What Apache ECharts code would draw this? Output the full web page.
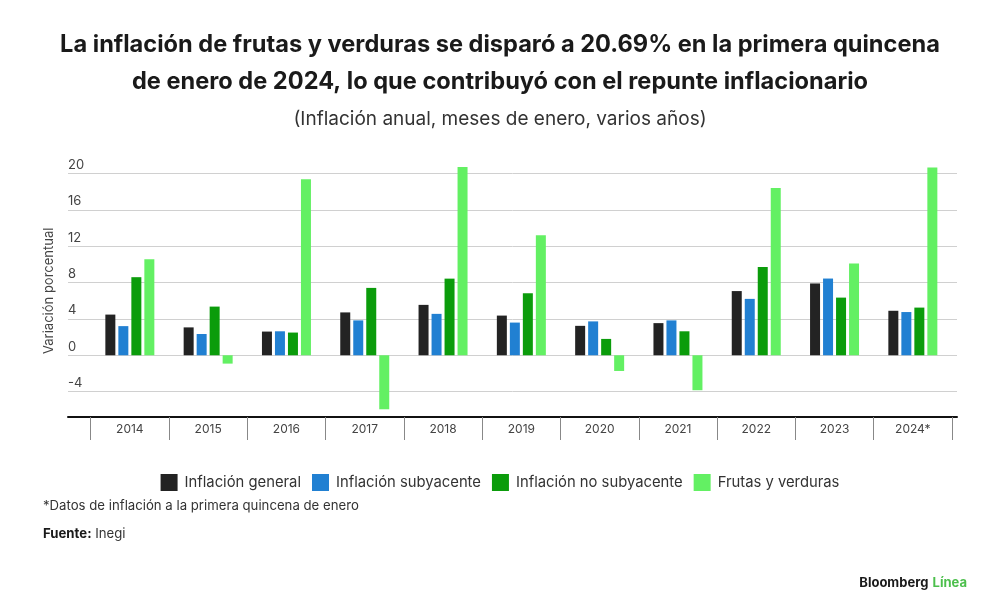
<!DOCTYPE html>
<html>
<head>
<meta charset="utf-8">
<script src="https://cdn.jsdelivr.net/npm/echarts@6/dist/echarts.min.js"></script>
<style>
  html, body { margin: 0; padding: 0; background: #fff; }
  #chart { width: 1000px; height: 610px; }
</style>
</head>
<body>
<div id="chart"></div>
<script>
var years = ['2014', '2015', '2016', '2017', '2018', '2019', '2020', '2021', '2022', '2023', '2024*'];
var general = [4.48, 3.07, 2.61, 4.72, 5.55, 4.37, 3.24, 3.54, 7.07, 7.91, 4.90];
var subyacente = [3.21, 2.34, 2.64, 3.84, 4.56, 3.60, 3.73, 3.84, 6.21, 8.45, 4.76];
var noSubyacente = [8.60, 5.36, 2.50, 7.42, 8.44, 6.83, 1.80, 2.64, 9.73, 6.35, 5.25];
var frutas = [10.57, -0.92, 19.38, -5.95, 20.74, 13.22, -1.73, -3.85, 18.43, 10.10, 20.69];
var yTicks = [-4, 0, 4, 8, 12, 16, 20];

var font = 'Inter, "Noto Sans", sans-serif';
var myChart = echarts.init(document.getElementById('chart'));

var gridTop = 164.6;
var gridHeight = 252.4;

function barSeries(name, color, data) {
  return {
    name: name,
    type: 'bar',
    xAxisIndex: 1,
    yAxisIndex: 1,
    barWidth: 10,
    barGap: '30%',
    itemStyle: { color: color },
    data: data
  };
}

var option = {
  backgroundColor: '#fff',
  animation: false,
  textStyle: { fontFamily: font },
  title: [
    {
      text: 'La inflación de frutas y verduras se disparó a 20.69% en la primera quincena\nde enero de 2024, lo que contribuyó con el repunte inflacionario',
      left: 'center',
      top: 21,
      textStyle: { fontSize: 23.6, fontWeight: 'bold', color: '#1a1a1a', lineHeight: 37, fontFamily: font }
    },
    {
      text: '(Inflación anual, meses de enero, varios años)',
      left: 'center',
      top: 105,
      textStyle: { fontSize: 19, fontWeight: 'normal', color: '#333', fontFamily: font }
    },
    {
      text: '*Datos de inflación a la primera quincena de enero',
      left: 38,
      top: 495,
      textStyle: { fontSize: 13.2, fontWeight: 'normal', color: '#333', fontFamily: font }
    },
    {
      text: '{b|Fuente:} Inegi',
      left: 38,
      top: 523,
      textStyle: {
        fontSize: 13.2, fontWeight: 'normal', color: '#333', fontFamily: font,
        rich: { b: { fontSize: 13.2, fontWeight: 'bold', color: '#1a1a1a', fontFamily: font } }
      }
    },
    {
      text: '{b|Bloomberg} {g|Línea}',
      right: 28,
      top: 569,
      textStyle: {
        fontFamily: font,
        rich: {
          b: { fontSize: 13, fontWeight: 'bold', color: '#1a1a1a', fontFamily: font },
          g: { fontSize: 13, fontWeight: 'bold', color: '#4cbf4c', fontFamily: font }
        }
      }
    }
  ],
  legend: {
    top: 469,
    left: 'center',
    icon: 'rect',
    itemWidth: 17,
    itemHeight: 17,
    itemGap: 11,
    textStyle: { fontSize: 14.8, color: '#333', fontFamily: font, padding: [0, 0, 0, 2] },
    data: ['Inflación general', 'Inflación subyacente', 'Inflación no subyacente', 'Frutas y verduras']
  },
  grid: [
    { left: 68, right: 43, top: gridTop, height: gridHeight },
    { left: 90.7, right: 48, top: gridTop, height: gridHeight }
  ],
  xAxis: [
    {
      type: 'category',
      gridIndex: 0,
      data: [''],
      axisLine: { onZero: false, lineStyle: { color: '#111', width: 2 } },
      axisTick: { show: false },
      axisLabel: { show: false }
    },
    {
      type: 'category',
      gridIndex: 1,
      data: years,
      axisLine: { show: false, onZero: false },
      axisTick: { show: true, length: 23, lineStyle: { color: '#888', width: 1 } },
      axisLabel: { color: '#444', fontSize: 12, margin: 6, fontFamily: font }
    }
  ],
  yAxis: [
    {
      type: 'value',
      gridIndex: 0,
      min: -6.8,
      max: 21,
      name: 'Variación porcentual',
      nameLocation: 'middle',
      nameGap: 12,
      nameTextStyle: { fontSize: 13, color: '#444', fontFamily: font },
      axisLine: { show: false },
      axisTick: { show: false, customValues: yTicks },
      axisLabel: {
        inside: true,
        margin: 0,
        customValues: yTicks,
        verticalAlign: 'bottom',
        padding: [0, 0, 2, 0],
        color: '#444',
        fontSize: 13,
        fontFamily: font
      },
      splitLine: { show: true, lineStyle: { color: '#d0d0d0', width: 1 } }
    },
    {
      type: 'value',
      gridIndex: 1,
      min: -6.8,
      max: 21,
      show: false,
      splitLine: { show: false }
    }
  ],
  series: [
    barSeries('Inflación general', '#232323', general),
    barSeries('Inflación subyacente', '#2180d2', subyacente),
    barSeries('Inflación no subyacente', '#0b9c0b', noSubyacente),
    barSeries('Frutas y verduras', '#63f063', frutas)
  ]
};

myChart.setOption(option);
</script>
</body>
</html>
